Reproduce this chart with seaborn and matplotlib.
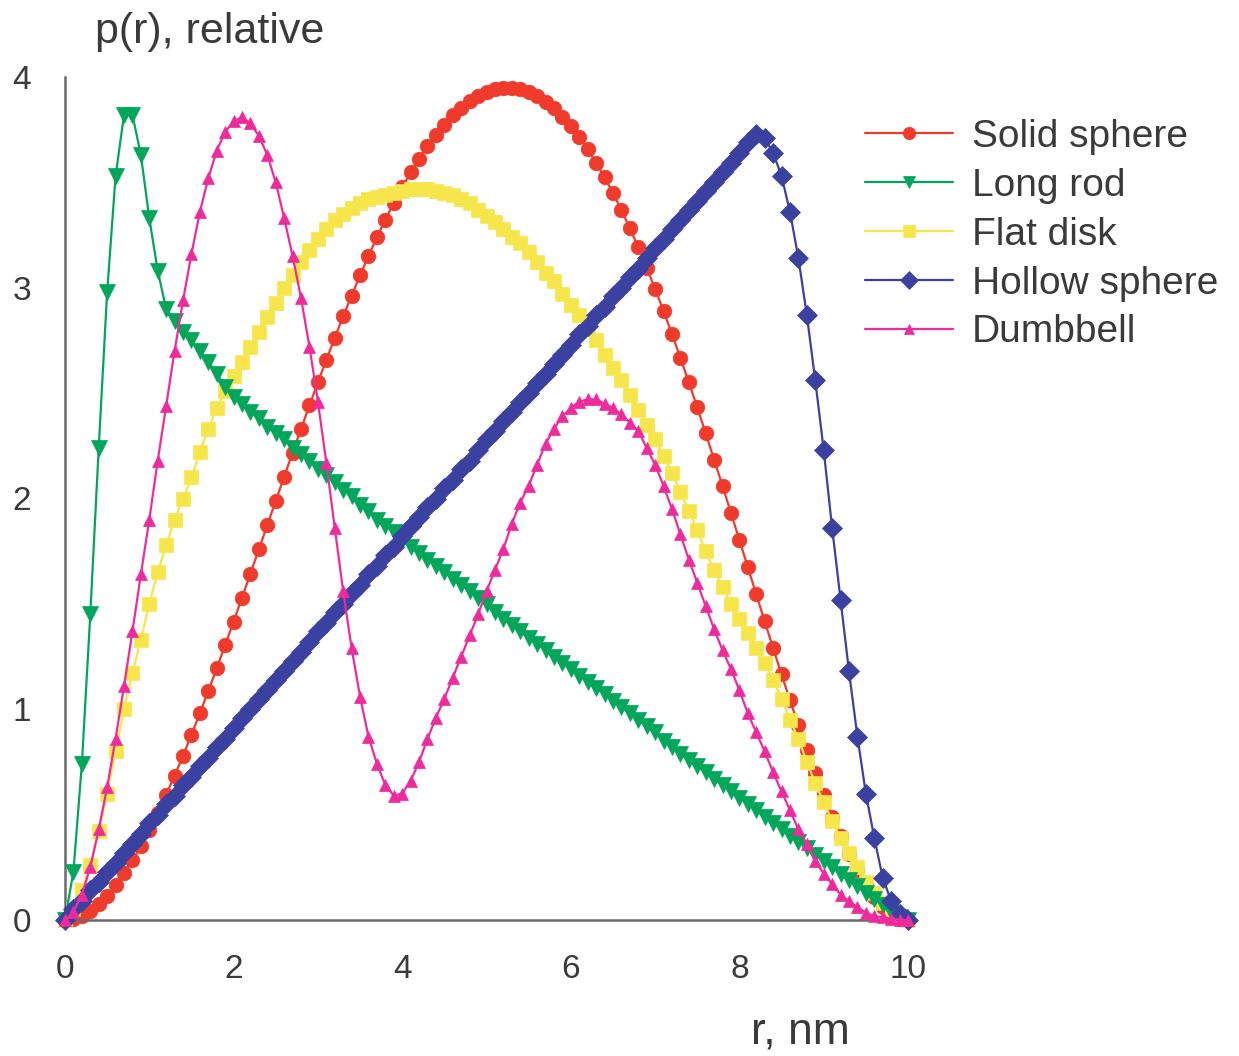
import matplotlib
matplotlib.use("Agg")
import matplotlib.pyplot as plt
import seaborn as sns
import pandas as pd
import numpy as np

# ---------------- data ----------------
r_nm = np.round(np.arange(0, 10.01, 0.1), 1)

solid_sphere = [0.00, 0.005, 0.02, 0.043, 0.076, 0.116, 0.165, 0.221, 0.283, 0.353,
                0.428, 0.509, 0.595, 0.685, 0.78, 0.879, 0.981, 1.087, 1.194, 1.305,
                1.416, 1.53, 1.644, 1.759, 1.874, 1.989, 2.104, 2.218, 2.331, 2.442,
                2.551, 2.658, 2.763, 2.865, 2.963, 3.059, 3.151, 3.239, 3.323, 3.402,
                3.477, 3.547, 3.612, 3.671, 3.726, 3.774, 3.818, 3.855, 3.886, 3.911,
                3.93, 3.942, 3.948, 3.948, 3.942, 3.929, 3.909, 3.883, 3.851, 3.812,
                3.766, 3.715, 3.657, 3.594, 3.525, 3.449, 3.369, 3.283, 3.192, 3.095,
                2.995, 2.89, 2.78, 2.667, 2.551, 2.432, 2.309, 2.185, 2.059, 1.931,
                1.803, 1.674, 1.545, 1.417, 1.29, 1.165, 1.043, 0.924, 0.808, 0.696,
                0.591, 0.491, 0.398, 0.312, 0.235, 0.168, 0.11, 0.064, 0.029, 0.007, 0.0]

long_rod = [0.00, 0.23, 0.74, 1.45, 2.24, 2.98, 3.53, 3.82, 3.82, 3.63,
            3.33, 3.08, 2.90, 2.84, 2.79, 2.75, 2.70, 2.65, 2.59, 2.53,
            2.48, 2.45, 2.41, 2.38, 2.34, 2.31, 2.28, 2.24, 2.21, 2.18,
            2.14, 2.11, 2.08, 2.04, 2.01, 1.97, 1.94, 1.90, 1.87, 1.84,
            1.80, 1.77, 1.74, 1.71, 1.68, 1.65, 1.62, 1.59, 1.56, 1.53,
            1.50, 1.46, 1.43, 1.40, 1.37, 1.34, 1.31, 1.28, 1.25, 1.22,
            1.19, 1.16, 1.13, 1.10, 1.07, 1.04, 1.01, 0.98, 0.95, 0.92,
            0.89, 0.85, 0.82, 0.79, 0.76, 0.73, 0.70, 0.67, 0.64, 0.61,
            0.58, 0.55, 0.52, 0.49, 0.46, 0.43, 0.40, 0.37, 0.34, 0.31,
            0.28, 0.25, 0.22, 0.19, 0.16, 0.13, 0.10, 0.07, 0.04, 0.015, 0.0]

flat_disk = [0.00, 0.05, 0.14, 0.26, 0.42, 0.60, 0.80, 1.00, 1.17, 1.33,
             1.50, 1.65, 1.78, 1.90, 2.00, 2.10, 2.22, 2.33, 2.43, 2.51,
             2.58, 2.65, 2.72, 2.79, 2.86, 2.93, 3.00, 3.06, 3.12, 3.18,
             3.23, 3.28, 3.32, 3.35, 3.38, 3.40, 3.42, 3.43, 3.44, 3.45,
             3.46, 3.47, 3.47, 3.47, 3.46, 3.45, 3.44, 3.42, 3.40, 3.37,
             3.34, 3.31, 3.28, 3.24, 3.21, 3.17, 3.12, 3.07, 3.03, 2.97,
             2.92, 2.87, 2.81, 2.75, 2.68, 2.62, 2.56, 2.49, 2.42, 2.35,
             2.28, 2.20, 2.12, 2.03, 1.94, 1.85, 1.75, 1.66, 1.58, 1.50,
             1.43, 1.36, 1.29, 1.22, 1.14, 1.05, 0.95, 0.86, 0.75, 0.65,
             0.56, 0.47, 0.39, 0.32, 0.25, 0.18, 0.13, 0.08, 0.04, 0.015, 0.0]

hollow_sphere = [0.00, 0.05, 0.09, 0.14, 0.18, 0.23, 0.27, 0.32, 0.36, 0.41,
                 0.46, 0.50, 0.55, 0.59, 0.64, 0.68, 0.73, 0.77, 0.82, 0.86,
                 0.91, 0.96, 1.00, 1.05, 1.09, 1.14, 1.18, 1.23, 1.27, 1.32,
                 1.37, 1.41, 1.46, 1.50, 1.55, 1.59, 1.64, 1.68, 1.73, 1.77,
                 1.82, 1.87, 1.91, 1.96, 2.00, 2.05, 2.09, 2.14, 2.18, 2.23,
                 2.28, 2.32, 2.37, 2.41, 2.46, 2.50, 2.55, 2.59, 2.64, 2.68,
                 2.73, 2.78, 2.82, 2.87, 2.91, 2.96, 3.00, 3.05, 3.09, 3.14,
                 3.19, 3.23, 3.28, 3.32, 3.37, 3.41, 3.46, 3.50, 3.55, 3.59,
                 3.64, 3.69, 3.73, 3.71, 3.64, 3.53, 3.36, 3.14, 2.87, 2.56,
                 2.23, 1.86, 1.52, 1.18, 0.87, 0.60, 0.39, 0.20, 0.09, 0.03, 0.0]

dumbbell = [0.00, 0.04, 0.12, 0.25, 0.43, 0.63, 0.86, 1.11, 1.37, 1.64,
            1.90, 2.18, 2.44, 2.70, 2.94, 3.16, 3.36, 3.52, 3.65, 3.74,
            3.79, 3.81, 3.78, 3.72, 3.63, 3.50, 3.33, 3.15, 2.95, 2.72,
            2.46, 2.17, 1.86, 1.56, 1.29, 1.06, 0.87, 0.74, 0.64, 0.59,
            0.60, 0.66, 0.75, 0.86, 0.96, 1.05, 1.15, 1.25, 1.35, 1.45,
            1.56, 1.66, 1.76, 1.88, 1.98, 2.06, 2.16, 2.26, 2.33, 2.39,
            2.43, 2.46, 2.47, 2.47, 2.45, 2.43, 2.40, 2.36, 2.32, 2.24,
            2.16, 2.06, 1.95, 1.83, 1.71, 1.60, 1.49, 1.38, 1.28, 1.19,
            1.09, 0.98, 0.89, 0.80, 0.70, 0.61, 0.52, 0.43, 0.36, 0.28,
            0.22, 0.17, 0.12, 0.09, 0.06, 0.035, 0.02, 0.012, 0.006, 0.002, 0.0]

series_names = ["Solid sphere", "Long rod", "Flat disk", "Hollow sphere", "Dumbbell"]
series_values = [solid_sphere, long_rod, flat_disk, hollow_sphere, dumbbell]

x_ticks = [0, 2, 4, 6, 8, 10]
y_ticks = [0, 1, 2, 3, 4]

# ---------------- styling ----------------
colors = {"Solid sphere": "#f03a2c", "Long rod": "#00a65a", "Flat disk": "#f6e64c",
          "Hollow sphere": "#3b41a0", "Dumbbell": "#ee2b9c"}
markers = {"Solid sphere": "o", "Long rod": "v", "Flat disk": "s",
           "Hollow sphere": "D", "Dumbbell": "^"}
msizes = {"Solid sphere": 10.5, "Long rod": 11, "Flat disk": 9.5,
          "Hollow sphere": 10.5, "Dumbbell": 9}
zorders = {"Solid sphere": 2, "Flat disk": 3, "Long rod": 4,
           "Hollow sphere": 5, "Dumbbell": 6}

df = pd.concat([pd.DataFrame({"r": r_nm, "p": vals, "shape": name})
                for name, vals in zip(series_names, series_values)],
               ignore_index=True)

sns.set_theme(style="white")
plt.rcParams["font.family"] = ["Liberation Sans", "DejaVu Sans"]

fig = plt.figure(figsize=(12.39, 10.56), dpi=100)
W, H = 1239, 1056
ax = fig.add_axes([65 / W, 1 - 920 / H, (908 - 65) / W, (920 - 77) / H])

for name in series_names:
    sub = df[df["shape"] == name]
    sns.lineplot(data=sub, x="r", y="p", ax=ax, color=colors[name],
                 marker=markers[name], markersize=msizes[name],
                 markeredgecolor=colors[name], markeredgewidth=0.5,
                 linewidth=1.6, label=name, zorder=zorders[name],
                 clip_on=False, estimator=None, sort=False)

ax.set_xlim(0, 10)
ax.set_ylim(0, 4)
ax.set_xticks(x_ticks)
ax.set_yticks(y_ticks)
ax.set_xlabel("")
ax.set_ylabel("")
for side in ["top", "right"]:
    ax.spines[side].set_visible(False)
for side in ["left", "bottom"]:
    ax.spines[side].set_color("#6a6a6a")
    ax.spines[side].set_linewidth(1.8)
ax.tick_params(axis="both", direction="out", length=10.5, width=1.5,
               color="#6a6a6a", labelsize=24, labelcolor="#3a3a3a")
ax.tick_params(axis="x", pad=14)
ax.tick_params(axis="y", pad=14)
ax.grid(False)

fig.text(95 / W, 1 - 32 / H, "p(r), relative", fontsize=31, color="#3a3a3a",
         ha="left", va="center")
fig.text(800 / W, 1 - 1032 / H, "r, nm", fontsize=32, color="#3a3a3a",
         ha="center", va="center")

handles, labels = ax.get_legend_handles_labels()
leg = ax.legend(handles, labels, loc="upper left",
                bbox_to_anchor=(865 / W, 1 - 119 / H), bbox_transform=fig.transFigure,
                frameon=False, fontsize=28, handlelength=2.25, handletextpad=0.5,
                labelspacing=0.33, borderpad=0, borderaxespad=0, markerscale=0.85)
for t in leg.get_texts():
    t.set_color("#3a3a3a")

fig.savefig("out.png", dpi=100)
